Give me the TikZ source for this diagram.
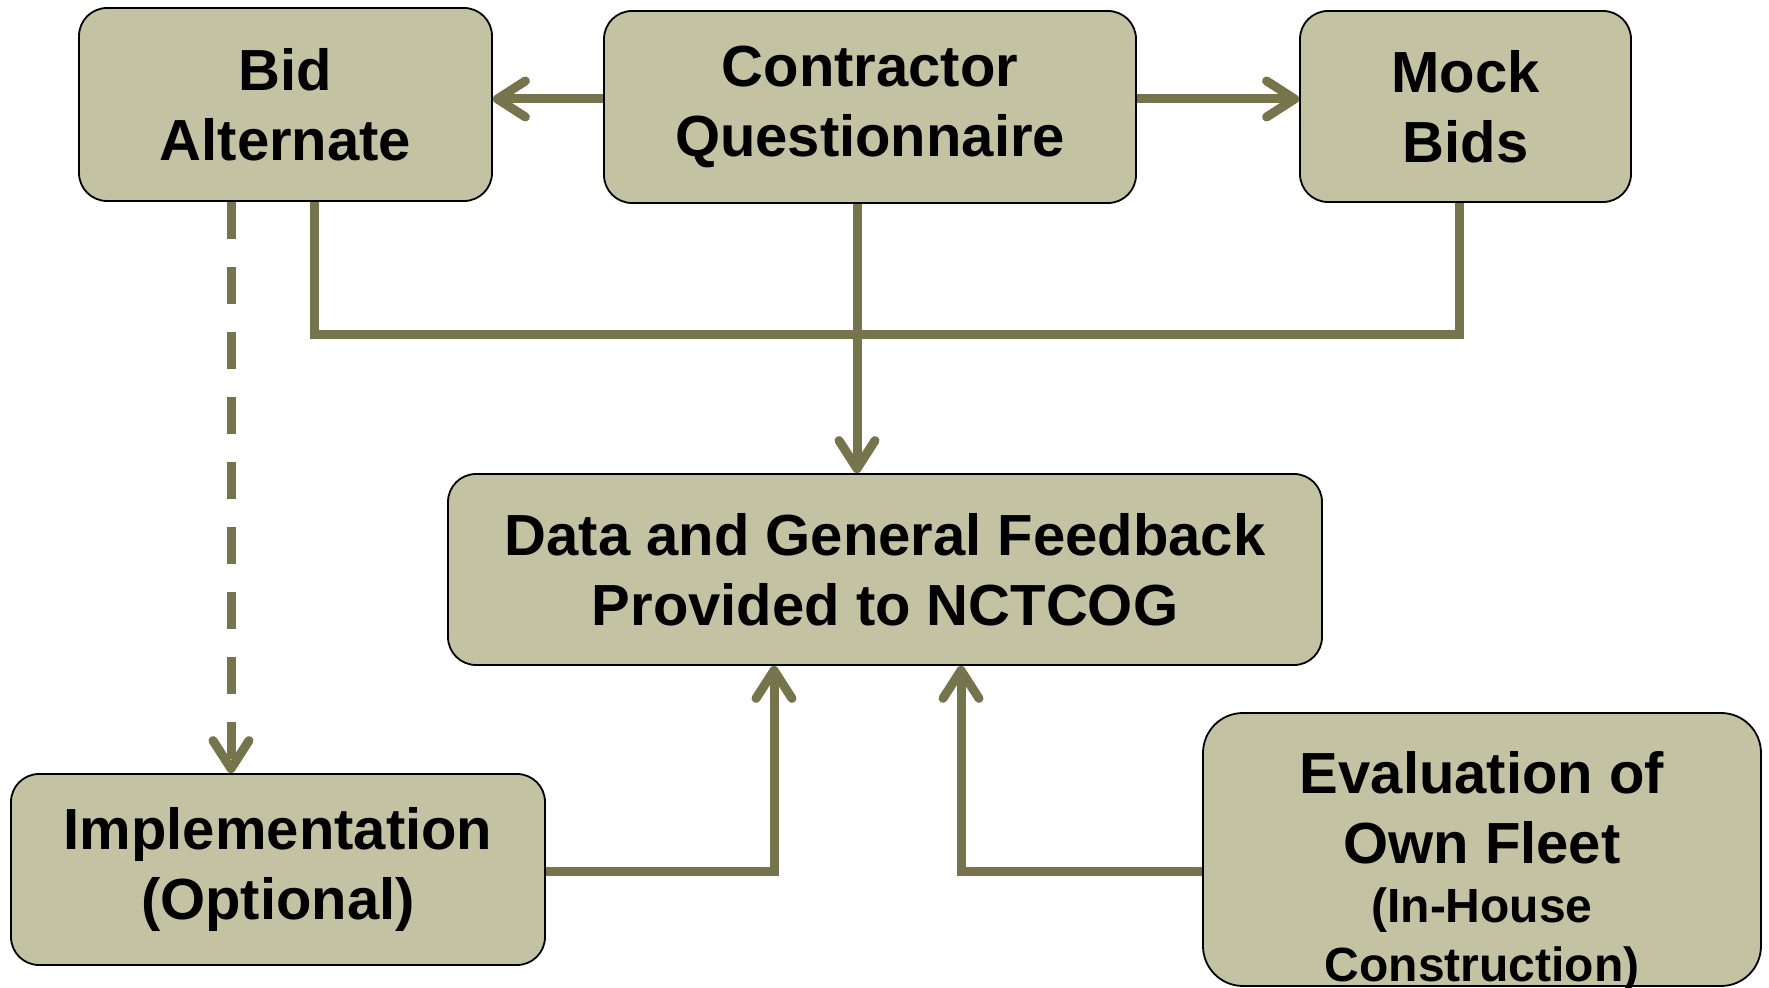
\documentclass[tikz,border=0pt]{standalone}
\usepackage{fontspec}
\setmainfont{Liberation Sans}
\usepackage{tikz}
\usetikzlibrary{arrows.meta}
\definecolor{boxfill}{RGB}{195,195,163}
\definecolor{linkcol}{RGB}{117,116,76}

\begin{document}
\begin{tikzpicture}[x=0.5pt, y=-0.5pt,
  box/.style={rectangle, rounded corners=14pt, draw=black, line width=0.9pt, fill=boxfill, align=center, inner sep=0pt, font=\fontsize{29}{35}\selectfont\bfseries},
  link/.style={draw=linkcol, line width=4.5pt},
  barb/.style={-{Straight Barb[length=14pt, width=18pt, round]}}]
\useasboundingbox (0,0) rectangle (1769,988);

\node (bid) at (285.5,104.5) [box, minimum width=206.5pt, minimum height=96.5pt] {Bid\\Alternate};
\node (contr) at (870,107) [box, minimum width=266pt, minimum height=96pt] {Contractor\\Questionnaire};
\node (mock) at (1465.5,106.5) [box, minimum width=165.5pt, minimum height=95.5pt] {Mock\\Bids};

\node (data) at (885,569.5) [box, minimum width=437pt, minimum height=95.5pt] {Data and General Feedback\\Provided to NCTCOG};

\node (impl) at (278,869.5) [box, minimum width=267pt, minimum height=95.5pt] {Implementation\\(Optional)};
\node (eval) at (1482,849.5) [box, rounded corners=20pt, minimum width=279pt, minimum height=136.5pt] {};
	\node (evaltext) at (1482,871.5) [align=center, inner sep=0pt, font=\fontsize{29}{35}\selectfont\bfseries] {Evaluation of\\Own Fleet\\[-5.5pt]{\fontsize{24}{29.5}\selectfont (In-House}\\[-5.5pt]{\fontsize{24}{29.5}\selectfont Construction)}};

% top row
\draw[link, barb] ([yshift=4pt]contr.west) -- ([yshift=4pt]contr.west -| bid.east);
\draw[link, barb] ([yshift=4pt]contr.east) -- ([yshift=4pt]contr.east -| mock.west);
\draw[link] ([xshift=14.25pt]bid.south) -- ++(0,133) -| ([xshift=-3.25pt]mock.south);
\draw[link, barb] ([xshift=-6.5pt]contr.south) -- ([xshift=-6.5pt]contr.south |- data.north);

% optional path
\draw[link, barb, dash pattern=on 18.5pt off 14pt] ([xshift=-27.25pt]bid.south) -- ([xshift=-27.25pt]bid.south |- impl.north);

% bottom row
\draw[link, barb] ([yshift=-1.25pt]impl.east) -| ([xshift=-55.5pt]data.south);
\draw[link, barb] ([yshift=-11.25pt]eval.west) -| ([xshift=38pt]data.south);

\end{tikzpicture}
\end{document}
